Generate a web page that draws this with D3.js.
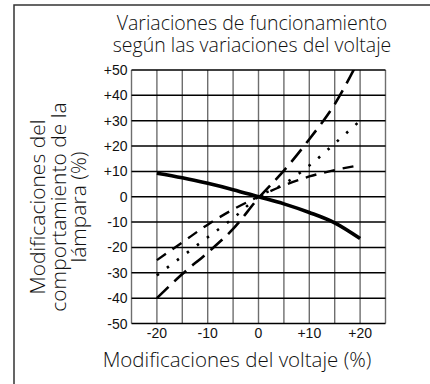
<!DOCTYPE html>
<html>
<head>
<meta charset="utf-8">
<script src="https://cdn.jsdelivr.net/npm/d3@7"></script>
<style>
body { margin: 0; background: #fff; }
svg { display: block; }
.title, .axis-title { font-family: "Open Sans", sans-serif; font-weight: 300; fill: #111; }
.tick-label { font-family: "Liberation Sans", Arial, sans-serif; font-size: 14px; fill: #111; }
</style>
</head>
<body>
<svg id="chart"></svg>
<script>
// voltage change (%) on the x axis
var voltage = [-20, -15, -10, -5, 0, 5, 10, 15, 20];

// lamp behaviour change (%) for each curve
var solidLine = [9.3, 7.5, 5.3, 2.8, 0, -2.8, -6.2, -10.3, -16.5];
var longDashLine = [-40, -30.5, -22, -12.7, -0.5, 10.3, 22.7, 36.5, 55];
var dottedLine = [-31, -23.5, -16, -8.5, 0, 5, 12.3, 21, 30];
var shortDashLine = [-25, -18, -11, -5, 0, 4.5, 8, 10.5, 12.5];

var xTicks = [-20, -10, 0, 10, 20];
var yTicks = [50, 40, 30, 20, 10, 0, -10, -20, -30, -40, -50];
var xGrid = [-25, -20, -15, -10, -5, 0, 5, 10, 15, 20, 25];

var titleLines = ["Variaciones de funcionamiento", "según las variaciones del voltaje"];
var yTitleLines = ["Modificaciones del", "comportamiento de la", "lámpara (%)"];
var xTitle = "Modificaciones del voltaje (%)";

var width = 430, height = 384;
var plot = {left: 131.5, right: 385.5, top: 70, bottom: 323.5};

var svg = d3.select("#chart")
    .attr("width", width)
    .attr("height", height);

// outer frame (top + left only)
svg.append("path")
    .attr("d", "M14,384 L14,5 L430,5")
    .attr("fill", "none")
    .attr("stroke", "#333")
    .attr("stroke-width", 1.5);

var x = d3.scaleLinear().domain([-25, 25]).range([plot.left, plot.right]);
var y = d3.scaleLinear().domain([-50, 50]).range([plot.bottom, plot.top]);

function fmt(v) { return v > 0 ? "+" + v : "" + v; }

// vertical grid (grey)
svg.append("g").selectAll("line")
    .data(xGrid)
    .enter().append("line")
    .attr("x1", function(d) { return x(d); })
    .attr("x2", function(d) { return x(d); })
    .attr("y1", y(50))
    .attr("y2", y(-50))
    .attr("stroke", "#6e6e6e")
    .attr("stroke-width", 1.4);

// horizontal grid (black)
svg.append("g").selectAll("line")
    .data(yTicks)
    .enter().append("line")
    .attr("x1", x(-25))
    .attr("x2", x(25))
    .attr("y1", function(d) { return y(d); })
    .attr("y2", function(d) { return y(d); })
    .attr("stroke", "#000")
    .attr("stroke-width", 1.5);

// tick labels
svg.append("g").selectAll("text")
    .data(yTicks)
    .enter().append("text")
    .attr("class", "tick-label")
    .attr("x", plot.left - 4)
    .attr("y", function(d) { return y(d); })
    .attr("dy", "0.36em")
    .attr("text-anchor", "end")
    .text(fmt);

svg.append("g").selectAll("text")
    .data(xTicks)
    .enter().append("text")
    .attr("class", "tick-label")
    .attr("x", function(d) { return x(d); })
    .attr("y", 338)
    .attr("text-anchor", "middle")
    .text(fmt);

// curves
svg.append("clipPath").attr("id", "clip")
  .append("rect")
    .attr("x", plot.left).attr("y", plot.top)
    .attr("width", plot.right - plot.left)
    .attr("height", plot.bottom - plot.top);

var line = d3.line()
    .x(function(d) { return x(d[0]); })
    .y(function(d) { return y(d[1]); })
    .curve(d3.curveMonotoneX);

var series = [
  {values: shortDashLine, width: 2.4, dash: "11,8"},
  {values: dottedLine, width: 2.6, dash: "2.5,10"},
  {values: longDashLine, width: 2.6, dash: "16,8"},
  {values: solidLine, width: 3.6, dash: null}
];

svg.append("g")
    .attr("clip-path", "url(#clip)")
  .selectAll("path")
    .data(series)
    .enter().append("path")
    .attr("fill", "none")
    .attr("stroke", "#000")
    .attr("stroke-width", function(d) { return d.width; })
    .attr("stroke-dasharray", function(d) { return d.dash; })
    .attr("d", function(d) { return line(d3.zip(voltage, d.values)); });

// title: one text, two lines
svg.append("text")
    .attr("class", "title")
    .attr("text-anchor", "middle")
    .style("font-size", "19.5px")
  .selectAll("tspan")
    .data(titleLines)
    .enter().append("tspan")
    .attr("x", 252)
    .attr("y", function(d, i) { return 30 + i * 22; })
    .text(function(d) { return d; });

svg.append("text")
    .attr("class", "axis-title")
    .attr("x", 237)
    .attr("y", 367)
    .attr("text-anchor", "middle")
    .style("font-size", "20.5px")
    .text(xTitle);

svg.append("g").selectAll("text")
    .data(yTitleLines)
    .enter().append("text")
    .attr("class", "axis-title")
    .attr("transform", function(d, i) { return "translate(" + (45 + i * 20.5) + ",207) rotate(-90)"; })
    .attr("text-anchor", "middle")
    .style("font-size", "21px")
    .text(function(d) { return d; });
</script>
</body>
</html>
